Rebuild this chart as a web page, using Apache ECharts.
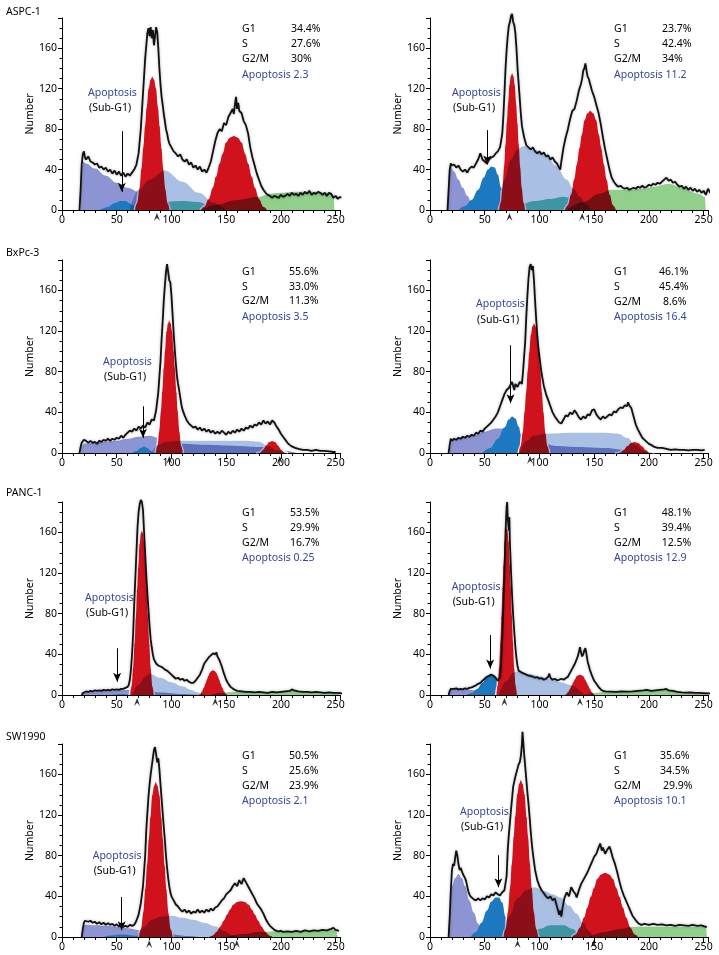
<!DOCTYPE html>
<html><head><meta charset="utf-8">
<script src="https://cdn.jsdelivr.net/npm/echarts@6/dist/echarts.min.js"></script>
<style>html,body{margin:0;padding:0;background:#fff}#c{width:719px;height:955px}</style>
</head><body><div id="c"></div>
<script>
// ---------------- DATA ----------------
const xTicks = [0, 50, 100, 150, 200, 250];
const yTicks = [0, 40, 80, 120, 160];
const phaseNames = ['G1', 'S', 'G2/M'];
const panelLabels = ['ASPC-1', '', 'BxPc-3', '', 'PANC-1', '', 'SW1990', ''];

// ASPC-1 control
const aspc1Hist = [[16,0],[17,20],[18,45],[19,55],[20,58],[21,52],[22,50],[24,53],[26,48],[28,47],[30,45],[32,46],[34,42],[36,43],[38,40],[40,42],[42,38],[44,40],[46,36],[48,39],[50,35],[52,38],[54,34],[56,37],[58,33],[60,36],[62,34],[64,37],[66,40],[68,45],[70,56],[72,80],[74,115],[76,150],[78,175],[79,180],[80,172],[81,181],[82,170],[83,178],[84,163],[85,172],[86,181],[87,176],[88,160],[89,140],[90,124],[91,112],[92,104],[93,95],[94,88],[95,80],[96,76],[97,70],[98,66],[100,62],[102,58],[104,56],[106,53],[108,55],[110,50],[112,48],[114,50],[116,45],[118,47],[120,42],[122,44],[124,40],[126,43],[128,38],[130,40],[132,37],[134,42],[136,48],[138,58],[140,68],[142,76],[144,80],[146,78],[148,86],[150,84],[152,92],[154,96],[156,100],[157,95],[158,104],[159,112],[160,100],[161,106],[162,98],[164,96],[166,88],[168,84],[170,76],[172,62],[174,52],[176,44],[178,36],[180,30],[182,24],[184,20],[186,17],[188,15],[190,14],[192,12],[194,14],[196,13],[198,12],[200,15],[202,13],[204,14],[206,16],[208,14],[210,17],[212,15],[214,16],[216,14],[218,17],[220,15],[222,18],[224,16],[226,19],[228,15],[230,17],[232,16],[234,18],[236,17],[238,15],[240,17],[242,14],[244,17],[246,16],[248,12],[250,14],[252,11],[254,13],[255,12]];
const aspc1Debris = [[17,0],[18,30],[19,48],[22,46],[30,41],[40,34],[50,27],[60,22],[70,18],[80,13],[90,9],[100,6],[115,3],[130,0]];
const aspc1Apop = [[35,0],[42,3],[48,7],[54,9],[58,9],[63,6],[68,3],[72,0]];
const aspc1Teal = [[72,0],[78,5],[90,8],[110,9],[125,8],[133,5],[140,0]];
const aspc1S = [[62,0],[70,20],[80,30],[94,39],[110,28],[125,17],[139,7],[150,0]];
const aspc1G1 = [[66,0],[68,6.6],[70,20],[71.9,40],[73.5,60],[75.2,82],[76.6,100],[78.5,120],[80.3,129],[82.5,133],[84.7,129],[86.5,120],[88.4,100],[89.8,82],[91.5,60],[93.1,40],[95,20],[97,6.6],[99,0]];
const aspc1G2 = [[126,0],[129.7,3.7],[133.4,11],[137.2,22],[140.1,33],[143.4,46],[146,55.5],[149.4,67],[152.8,72],[157,74],[161.2,72],[164.6,67],[168,55.5],[170.6,46],[173.9,33],[176.8,22],[180.6,11],[184.3,3.7],[188,0]];
const aspc1Agg = [[128,0],[140,5],[160,10],[180,13],[190,16],[200,17],[215,18],[230,18],[245,17],[248,15],[249,0]];
const aspc1Markers = [86.7];
const aspc1Arrow = [54.6, 78, 18];
const aspc1Stats = ['34.4%', '27.6%', '30%', '2.3'];

// ASPC-1 treated
const aspc1tHist = [[16,0],[17,20],[18,40],[19,46],[20,44],[22,45],[24,42],[26,44],[28,40],[30,38],[32,40],[34,37],[36,41],[38,43],[40,42],[42,46],[44,50],[46,56],[48,50],[50,48],[52,46],[54,50],[56,52],[58,53],[60,56],[62,58],[64,62],[66,75],[67,92],[68,115],[69,140],[70,158],[71,172],[72,182],[73,186],[74,192],[75,194],[76,186],[77,183],[78,175],[79,160],[80,140],[81,125],[82,110],[83,95],[84,83],[86,72],[88,64],[90,62],[92,60],[94,62],[96,58],[98,56],[100,58],[102,55],[104,57],[106,53],[108,54],[110,50],[112,52],[114,48],[116,46],[118,42],[119,40],[120,48],[122,62],[124,72],[126,80],[128,90],[130,98],[132,100],[134,108],[136,118],[138,125],[139,130],[140,138],[141,140],[142,145],[143,138],[144,132],[145,130],[146,126],[148,118],[150,112],[152,104],[154,96],[156,85],[158,72],[160,60],[162,50],[164,40],[166,32],[168,28],[170,25],[172,23],[174,24],[176,22],[178,21],[180,22],[182,20],[184,21],[186,22],[188,21],[190,23],[192,22],[194,24],[196,22],[198,23],[200,25],[202,24],[204,26],[206,25],[208,27],[210,26],[212,28],[214,30],[216,32],[218,29],[220,30],[222,27],[224,28],[226,25],[228,23],[230,24],[232,21],[234,23],[236,20],[238,22],[240,19],[242,21],[244,18],[246,20],[248,17],[250,19],[252,15],[254,21],[256,17]];
const aspc1tDebris = [[16,0],[17,25],[19,43],[22,38],[26,30],[30,22],[34,14],[38,7],[42,2],[45,0]];
const aspc1tApop = [[26,0],[32,4],[38,10],[44,20],[49,32],[53,40],[56,43],[59,42],[62,35],[65,22],[68,10],[71,3],[74,0]];
const aspc1tTeal = [[80,0],[84,6],[95,9],[110,11],[122,13],[128,12],[133,6],[136,0]];
const aspc1tS = [[62,0],[68,30],[74,50],[80,60],[85,63],[92,61],[100,58],[107,53],[115,44],[125,30],[131,21],[137,13],[142,6],[147,0]];
const aspc1tG1 = [[62.5,0],[64,7],[65.5,20.5],[67,41],[68.2,62],[69.5,85],[70.6,103],[71.9,123],[73.3,133],[75,137],[76.7,133],[78.1,123],[79.4,103],[80.5,85],[81.8,62],[83,41],[84.5,20.5],[86,7],[87.5,0]];
const aspc1tG2 = [[122.5,0],[125.4,5],[128.25,15],[131.15,30],[133.4,44.5],[135.95,61],[138,74],[140.6,89],[143.25,96],[146.5,99],[149.75,96],[152.4,89],[155,74],[157.05,61],[159.6,44.5],[161.85,30],[164.75,15],[167.6,5],[170.5,0]];
const aspc1tAgg = [[125,0],[140,8],[155,16],[165,20],[180,20],[195,21],[205,23],[218,26],[230,22],[245,16],[251,13],[252,0]];
const aspc1tMarkers = [72.6, 139];
const aspc1tArrow = [52.3, 79, 45];
const aspc1tStats = ['23.7%', '42.4%', '34%', '11.2'];

// BxPc-3 control
const bxpcHist = [[16,0],[17,6],[18,10],[20,13],[22,12],[24,10],[26,12],[28,10],[30,11],[32,9],[34,12],[36,11],[38,13],[40,12],[42,14],[44,12],[46,14],[48,13],[50,15],[52,14],[54,17],[56,15],[58,18],[60,20],[62,22],[64,21],[66,24],[68,22],[70,26],[72,24],[74,27],[76,25],[78,30],[80,28],[82,33],[84,32],[86,42],[88,60],[90,90],[91,112],[92,130],[93,150],[94,165],[95,178],[96,186],[97,178],[98,170],[99,168],[100,155],[101,137],[102,118],[103,102],[104,88],[105,76],[106,68],[107,62],[108,55],[109,48],[110,43],[112,37],[114,32],[116,29],[118,27],[120,25],[122,26],[124,23],[126,25],[128,22],[130,24],[132,21],[134,23],[136,20],[138,22],[140,19],[142,21],[144,19],[146,22],[148,20],[150,18],[152,21],[154,19],[156,22],[158,20],[160,23],[162,21],[164,24],[166,22],[168,25],[170,24],[172,27],[174,25],[176,28],[178,27],[180,30],[182,28],[184,32],[186,29],[188,31],[190,28],[192,32],[194,30],[196,26],[198,23],[200,19],[202,16],[204,13],[206,10],[208,8],[210,6.5],[213,5],[216,4],[220,3],[224,3],[228,2],[232,3],[236,2],[240,2],[244,1.5],[248,1],[250,1]];
const bxpcDebris = [[17,0],[18,7],[20,9],[30,10],[40,11],[50,12],[60,14],[70,16],[80,17],[88,15],[95,12],[110,9],[130,8],[160,7],[180,6],[195,4],[205,2],[215,0]];
const bxpcApop = [[64,0],[68,2],[72,5],[75,6.5],[78,5],[81,2],[84,0]];
const bxpcTeal = [];
const bxpcS = [[82,0],[88,8],[95,11],[110,12],[140,12],[170,12],[180,11],[188,7],[196,3],[204,0]];
const bxpcG1 = [[85,0],[86.6,6.6],[88.1,20],[89.7,40],[90.9,59],[92.3,82],[93.4,99],[94.8,119],[96.25,128],[98,132],[99.75,128],[101.2,119],[102.6,99],[103.7,82],[105.1,59],[106.3,40],[107.9,20],[109.4,6.6],[111,0]];
const bxpcG2 = [[177.5,0],[180.7,1],[183.4,3.7],[186,7.7],[189,11.2],[192,12.4],[195,11.2],[198,7.7],[200.6,3.7],[203.3,1],[206.5,0]];
const bxpcAgg = [];
const bxpcMarkers = [98, 199];
const bxpcArrow = [74, 46, 15];
const bxpcStats = ['55.6%', '33.0%', '11.3%', '3.5'];

// BxPc-3 treated
const bxpctHist = [[17,0],[18,8],[19,14],[20,12],[22,14],[24,13],[26,15],[28,14],[30,16],[32,15],[34,17],[36,16],[38,18],[40,17],[42,20],[44,19],[46,22],[48,21],[50,24],[52,26],[54,28],[56,30],[58,33],[60,36],[62,40],[64,46],[66,52],[68,58],[70,62],[72,64],[74,68],[75,70],[76,66],[77,62],[78,68],[80,65],[82,70],[84,68],[85,80],[86,95],[87,110],[88,135],[89,155],[90,172],[91,183],[92,186],[93,180],[94,184],[95,170],[96,150],[97,132],[98,116],[99,104],[100,95],[101,86],[102,78],[103,72],[104,66],[106,58],[108,52],[110,46],[112,40],[114,36],[116,33],[118,30],[120,29],[122,33],[124,37],[126,36],[128,40],[130,38],[132,42],[134,39],[136,35],[138,33],[140,36],[142,34],[144,38],[146,37],[148,42],[150,43],[152,38],[154,35],[156,33],[158,36],[160,34],[162,36],[164,38],[166,37],[168,41],[170,40],[172,43],[174,45],[176,44],[178,47],[180,46],[181,50],[182,47],[184,44],[186,36],[188,28],[190,23],[192,19],[194,15],[196,13],[198,11],[200,9],[202,8],[205,6],[208,5],[212,5],[216,4],[220,3],[224,3.5],[228,3],[232,3],[236,2.5],[240,3],[244,3],[248,2.5],[251,3]];
const bxpctDebris = [[18,0],[19,10],[22,13],[30,15],[40,18],[50,21],[60,24],[70,24],[80,20],[90,14],[100,10],[115,7],[135,6],[160,5],[180,3],[195,1],[200,0]];
const bxpctApop = [[48,0],[55,5],[62,14],[68,25],[72,33],[75,36],[78,34],[81,26],[84,12],[87,3],[90,0]];
const bxpctTeal = [];
const bxpctS = [[82,0],[88,12],[95,17],[105,19],[130,20],[160,20],[172,19],[180,15],[188,8],[196,2],[200,0]];
const bxpctG1 = [[80.5,0],[82.2,6.5],[84,19.4],[85.7,39],[87.1,58],[88.6,80],[89.85,97],[91.45,116],[93,125],[95,129],[97,125],[98.55,116],[100.15,97],[101.4,80],[102.9,58],[104.3,39],[106,19.4],[107.8,6.5],[109.5,0]];
const bxpctG2 = [[169,0],[173.2,0.9],[176.5,3.5],[179.8,7.1],[183.3,10.4],[187,11.5],[190.7,10.4],[194.2,7.1],[197.5,3.5],[200.8,0.9],[205,0]];
const bxpctAgg = [];
const bxpctMarkers = [91.4];
const bxpctArrow = [73.6, 106, 49];
const bxpctStats = ['46.1%', '45.4%', '8.6%', '16.4'];

// PANC-1 control
const pancHist = [[18,0],[19,2],[20,3],[22,3.5],[24,3],[26,4],[28,3.5],[30,4.5],[32,4],[34,4.5],[36,4],[38,5],[40,4.5],[42,5],[44,4.5],[46,5.5],[48,5],[50,5.5],[52,5],[54,6],[56,6],[58,7],[60,8],[61,10],[62,15],[63,25],[64,40],[65,60],[66,90],[67,115],[68,140],[69,165],[70,180],[71,188],[72,192],[73,190],[74,182],[75,160],[76,139],[77,118],[78,100],[79,84],[80,68],[81,55],[82,47],[83,40],[84,35],[86,31],[88,29],[90,28],[92,27],[94,25],[96,24],[98,22],[100,20],[102,18],[104,16],[106,17],[108,15],[110,16],[112,14],[114,15],[116,13],[118,12],[120,12],[122,14],[124,17],[126,20],[128,25],[130,31],[132,34],[134,37],[136,39],[138,41],[140,40],[141,42],[142,38],[144,34],[146,28],[148,21],[150,15],[152,11],[154,8],[156,6.5],[158,5],[160,4],[164,3.5],[168,3],[172,3],[176,2.5],[180,3],[184,2.5],[188,2],[192,3],[196,2.5],[200,3],[204,3.5],[208,4],[210,5.5],[212,4.5],[214,4],[216,3.5],[220,3],[224,3],[228,2.5],[232,3],[236,2.5],[240,2],[244,2.5],[248,2],[252,2],[256,1.5]];
const pancDebris = [[18,0],[19,2.5],[25,3],[40,4],[55,5],[65,5],[75,4],[90,2.5],[110,1],[125,0]];
const pancApop = [[45,0],[50,0.8],[55,1],[60,0.5],[64,0]];
const pancTeal = [];
const pancS = [[64,0],[70,10],[76,18],[80,21],[90,17],[100,12.5],[110,8.5],[118,5],[123,3],[128,1],[132,0]];
const pancG1 = [[61.5,0],[62.9,8.2],[64.25,24.6],[65.65,49],[66.75,74],[67.95,102],[68.9,123],[70.2,148],[71.45,159],[73,164],[74.55,159],[75.8,148],[77.1,123],[78.05,102],[79.25,74],[80.35,49],[81.75,24.6],[83.1,8.2],[84.5,0]];
const pancG2 = [[124,0],[125.7,1.25],[127.35,3.75],[129.05,7.5],[130.4,11.2],[131.85,15.5],[133,18.8],[134.55,22.5],[136.1,24.2],[138,25],[139.9,24.2],[141.45,22.5],[143,18.8],[144.15,15.5],[145.6,11.2],[146.95,7.5],[148.65,3.75],[150.3,1.25],[152,0]];
const pancAgg = [[135,0],[145,2],[155,3],[180,3],[200,3],[208,4],[212,5],[216,3.5],[230,2.5],[250,2],[253,1.5],[254,0]];
const pancMarkers = [68.6, 140];
const pancArrow = [50.4, 46, 13];
const pancStats = ['53.5%', '29.9%', '16.7%', '0.25'];

// PANC-1 treated
const panctHist = [[17,0],[18,4],[19,6],[20,7],[22,6],[24,6.5],[26,5.5],[28,6],[30,5.5],[32,6.5],[34,6],[36,7],[38,7.5],[40,8.5],[42,9.5],[44,11],[46,12],[48,14],[50,16],[52,18],[54,19],[56,20],[58,19],[60,17],[62,14],[63,13],[64,18],[65,30],[66,55],[67,85],[68,120],[69,160],[70,185],[70.5,190],[71,175],[72,162],[72.5,175],[73,150],[74,122],[75,98],[76,78],[77,62],[78,47],[79,36],[80,28],[81,24],[82,23],[84,22],[86,21],[88,20],[90,19],[92,18.5],[94,18],[96,17],[98,17.5],[100,16],[102,16.5],[104,15],[106,16],[108,18],[109,21],[110,17],[112,15],[114,16],[116,14.5],[118,15],[120,16],[122,15],[124,16.5],[126,18],[128,22],[130,26],[132,30],[134,35],[135,38],[136,42],[137,47],[138,42],[139,38],[140,40],[141,44],[142,46],[143,40],[144,33],[146,25],[148,19],[150,14],[152,11],[154,8],[156,5.5],[158,4],[160,3.5],[165,3.3],[170,3],[175,3.5],[180,3.3],[185,3.5],[190,4],[195,4.5],[198,5],[202,4],[206,4.5],[210,5],[214,5.5],[216,6],[218,4.5],[222,4],[226,3],[230,2.5],[234,2.3],[238,2.5],[242,2],[246,2],[250,1.8],[254,1.6],[256,1.5]];
const panctDebris = [[17,0],[18,5],[20,6],[30,6],[38,5],[45,4],[52,2],[58,0]];
const panctApop = [[33,0],[38,2],[43,6],[48,12],[52,17.5],[55,20.5],[58,20],[61,16],[64,9],[66,3],[68,0]];
const panctTeal = [];
const panctS = [[63,0],[70,14],[76,22],[80,23.5],[90,21],[100,18.5],[110,15.5],[120,12.5],[128,10],[133,8],[137,4],[141,0]];
const panctG1 = [[60,0],[61.2,8.4],[62.4,25],[63.6,50],[64.55,75],[65.6,104],[66.45,125],[67.55,150],[68.65,162],[70,167],[71.35,162],[72.45,150],[73.55,125],[74.4,104],[75.45,75],[76.4,50],[77.6,25],[78.8,8.4],[80,0]];
const panctG2 = [[122,0],[123.8,1],[125.6,3.1],[127.4,6.2],[128.8,9.3],[130.4,12.8],[131.7,15.5],[133.3,18.6],[135,20],[137,20.7],[139,20],[140.7,18.6],[142.3,15.5],[143.6,12.8],[145.2,9.3],[146.6,6.2],[148.4,3.1],[150.2,1],[152,0]];
const panctAgg = [[140,0],[150,2],[160,3],[180,3.3],[195,4],[205,4.5],[215,6],[222,4],[235,2.5],[253,1.5],[254,0]];
const panctMarkers = [68, 137];
const panctArrow = [55, 59, 26];
const panctStats = ['48.1%', '39.4%', '12.5%', '12.9'];

// SW1990 control
const swHist = [[18,0],[19,8],[20,14],[21,16],[22,17],[24,15],[26,16],[28,14],[30,15],[32,13],[34,14.5],[36,12.5],[38,14],[40,12],[42,13.5],[44,12],[46,13],[48,11],[50,12.5],[52,10.5],[54,11.5],[56,10],[58,11],[60,10],[62,12],[64,11],[66,12],[68,16],[70,22],[72,33],[74,50],[76,80],[77,105],[78,122],[79,138],[80,150],[81,160],[82,168],[83,176],[84,184],[85,187],[86,180],[87,172],[88,176],[89,165],[90,150],[91,136],[92,122],[93,108],[94,95],[95,80],[96,68],[97,58],[98,50],[99,44],[100,40],[102,36],[104,32],[106,30],[108,27],[110,25],[112,27],[114,24],[116,26],[118,23],[120,25],[122,24],[124,27],[126,24],[128,26],[130,24],[132,27],[134,25],[136,28],[138,26],[140,29],[142,30],[144,33],[146,36],[148,38],[150,42],[152,44],[154,46],[156,50],[158,53],[160,50],[162,56],[164,52],[166,58],[168,54],[170,50],[172,46],[174,42],[176,38],[178,33],[180,30],[182,27],[184,23],[186,18],[188,14],[190,11],[192,9],[194,7],[196,6],[198,5.5],[200,6],[202,5],[206,5.5],[210,5],[214,6],[218,5],[222,6.5],[226,5.5],[230,6.5],[234,6],[238,7],[242,6.5],[246,8],[248,9],[250,7],[253,6]];
const swDebris = [[18,0],[19,8],[21,12],[30,11.5],[40,11],[50,10],[60,8.5],[70,7],[80,5.5],[90,4],[100,2.5],[115,1],[125,0]];
const swApop = [[38,0],[45,1.5],[52,2.5],[58,2.5],[65,1.5],[72,0.5],[76,0]];
const swTeal = [];
const swS = [[68,0],[75,10],[82,17],[90,20],[100,21],[110,19],[120,17],[130,14],[140,10.5],[148,6],[155,2],[160,0]];
const swG1 = [[69.7,0],[71.6,7.7],[73.55,23],[75.45,46],[77,69],[78.65,95],[80,116],[81.8,139],[83.55,149],[85.7,154],[87.85,149],[89.6,139],[91.4,116],[92.75,95],[94.4,69],[95.95,46],[97.85,23],[99.8,7.7],[101.7,0]];
const swG2 = [[133.5,0],[137.1,1.8],[140.7,5.4],[144.3,10.8],[147.15,16.2],[150.3,22.3],[152.85,27],[156.15,32.4],[159.45,35],[163.5,36],[167.55,35],[170.85,32.4],[174.15,27],[176.7,22.3],[179.85,16.2],[182.7,10.8],[186.3,5.4],[189.9,1.8],[193.5,0]];
const swAgg = [[150,0],[165,3],[180,5],[195,5.5],[210,5],[225,5.5],[240,6.5],[250,7],[252,0]];
const swMarkers = [79.7, 159.7];
const swArrow = [54.5, 39.4, 6.6];
const swStats = ['50.5%', '25.6%', '23.9%', '2.1'];

// SW1990 treated
const swtHist = [[17,0],[18,20],[19,45],[20,65],[21,72],[22,70],[23,78],[24,85],[25,80],[26,72],[27,66],[28,68],[30,62],[32,58],[33,55],[34,50],[35,45],[36,42],[37,40],[38,39],[40,37],[42,36],[44,38],[46,36],[48,38],[50,37],[52,40],[54,39],[56,42],[58,41],[60,44],[62,42],[64,41],[66,44],[68,46],[70,60],[71,85],[72,100],[74,125],[76,148],[78,158],[80,166],[81,170],[82,172],[83,178],[84,190],[84.5,202],[85,195],[86,180],[87,168],[88,155],[89,142],[90,131],[91,118],[92,104],[93,92],[94,82],[95,74],[96,66],[98,56],[100,50],[102,46],[104,43],[106,40],[108,38],[110,40],[112,36],[114,38],[116,30],[117,26],[118,22],[119,26],[120,20],[121,28],[122,34],[123,39],[125,44],[127,40],[129,49],[131,45],[133,42],[134,39],[136,46],[138,52],[140,56],[142,60],[144,64],[146,69],[148,74],[150,79],[152,82],[154,88],[155.5,92],[157,85],[158,88],[160,82],[162,86],[164,89],[165,86],[167,78],[169,72],[171,64],[173,55],[175,47],[177,41],[179,36],[181,31],[183,26],[185,21],[187,18],[189,15],[191,13],[193,12],[196,13],[200,12],[204,13],[208,12],[212,12.5],[216,11.5],[220,12],[224,11],[228,12],[232,11.5],[236,11],[240,12],[244,11],[248,11.5],[252,10],[253,10]];
const swtDebris = [[17,0],[18,25],[20,50],[23,58],[26,62],[29,58],[32,50],[36,36],[40,24],[44,13],[48,5],[52,0]];
const swtApop = [[37,0],[42,5],[47,14],[52,26],[56,35],[60,39],[63,39],[66,34],[69,20],[72,8],[75,2],[77,0]];
const swtTeal = [[95,0],[100,8],[110,11.5],[122,11.5],[130,8],[136,3],[139,0]];
const swtS = [[66,0],[72,20],[80,38],[88,46],[95,49],[105,45],[112,42],[119,39],[127,31],[134,23],[140,14],[145,6],[149,0]];
const swtG1 = [[66.5,0],[68.5,7.8],[70.45,23.4],[72.45,47],[74,70],[75.75,97],[77.15,117],[79,140],[80.8,151],[83,156],[85.2,151],[87,140],[88.85,117],[90.25,97],[92,70],[93.55,47],[95.55,23.4],[97.5,7.8],[99.5,0]];
const swtG2 = [[129,0],[132.7,3.2],[136.45,9.6],[140.15,19.2],[143.1,28.8],[146.35,39.7],[149,48],[152.4,57.6],[155.8,62],[160,64],[164.2,62],[167.6,57.6],[171,48],[173.65,39.7],[176.9,28.8],[179.85,19.2],[183.55,9.6],[187.3,3.2],[191,0]];
const swtAgg = [[145,0],[160,5],[175,8],[185,10],[200,10],[220,10],[240,10],[252,10],[253,0]];
const swtMarkers = [80, 149.4];
const swtArrow = [62.5, 80.5, 49];
const swtStats = ['35.6%', '34.5%', '29.9%', '10.1'];

// ---------------- BUILD ----------------
const panels = [
  {hist: aspc1Hist, debris: aspc1Debris, apop: aspc1Apop, teal: aspc1Teal, s: aspc1S, g1: aspc1G1, g2: aspc1G2, agg: aspc1Agg, markers: aspc1Markers, arrow: aspc1Arrow, stats: aspc1Stats},
  {hist: aspc1tHist, debris: aspc1tDebris, apop: aspc1tApop, teal: aspc1tTeal, s: aspc1tS, g1: aspc1tG1, g2: aspc1tG2, agg: aspc1tAgg, markers: aspc1tMarkers, arrow: aspc1tArrow, stats: aspc1tStats},
  {hist: bxpcHist, debris: bxpcDebris, apop: bxpcApop, teal: bxpcTeal, s: bxpcS, g1: bxpcG1, g2: bxpcG2, agg: bxpcAgg, markers: bxpcMarkers, arrow: bxpcArrow, stats: bxpcStats},
  {hist: bxpctHist, debris: bxpctDebris, apop: bxpctApop, teal: bxpctTeal, s: bxpctS, g1: bxpctG1, g2: bxpctG2, agg: bxpctAgg, markers: bxpctMarkers, arrow: bxpctArrow, stats: bxpctStats},
  {hist: pancHist, debris: pancDebris, apop: pancApop, teal: pancTeal, s: pancS, g1: pancG1, g2: pancG2, agg: pancAgg, markers: pancMarkers, arrow: pancArrow, stats: pancStats},
  {hist: panctHist, debris: panctDebris, apop: panctApop, teal: panctTeal, s: panctS, g1: panctG1, g2: panctG2, agg: panctAgg, markers: panctMarkers, arrow: panctArrow, stats: panctStats},
  {hist: swHist, debris: swDebris, apop: swApop, teal: swTeal, s: swS, g1: swG1, g2: swG2, agg: swAgg, markers: swMarkers, arrow: swArrow, stats: swStats},
  {hist: swtHist, debris: swtDebris, apop: swtApop, teal: swtTeal, s: swtS, g1: swtG1, g2: swtG2, agg: swtAgg, markers: swtMarkers, arrow: swtArrow, stats: swtStats}
];

// layout (pixels)
const rowsLayout = [{top: 18, height: 192}, {top: 260, height: 193}, {top: 502, height: 193}, {top: 744, height: 193}];
const colLeft = [62, 430];
const textLayout = [
  {label: [6, 12], statX: 242, valX: 291, rowY: [29, 44, 59, 75], sub: [88, 93], subGap: 15},
  {statX: 614, valX: 662, rowY: [29, 44, 59, 75], sub: [452, 93], subGap: 15},
  {label: [6, 253], statX: 242, valX: 289, rowY: [272, 287, 301.5, 316.7], sub: [103, 361.7], subGap: 15},
  {statX: 614, valX: 659, rowY: [272, 287, 301.7, 316.7], sub: [476, 304], subGap: 16.5, valOff: [0, 0, 4]},
  {label: [6, 493.3], statX: 242, valX: 290, rowY: [513.3, 528.3, 543.3, 558.3], sub: [85, 598.3], subGap: 15},
  {statX: 614, valX: 661.7, rowY: [513.3, 528.3, 543.3, 558.3], sub: [451.7, 586.7], subGap: 15},
  {label: [6, 736.7], statX: 242, valX: 289, rowY: [755.7, 770.7, 786, 800.7], sub: [92.7, 855.7], subGap: 15},
  {statX: 614, valX: 660, rowY: [755.7, 770.7, 786, 800.7], sub: [460, 811.7], subGap: 15.6, valOff: [0, 0, 3]}
];

const FONT = 'Noto Sans';
const FS = 10.5;
const BLUE_TXT = '#34469c';
const C = {debris: '#8d94d4', apop: '#1c78bf', teal: '#5cc8b8', s: '#aabfe4', agg: '#90d08b', red: '#d0121c'};

const grids = [], xAxes = [], yAxes = [], series = [], graphics = [];

function area(gi, data, color, z, blend) {
  const s = {type: 'line', xAxisIndex: gi, yAxisIndex: gi, data: data, smooth: 0.4, smoothMonotone: 'x',
    symbol: 'none', silent: true, lineStyle: {width: 0, opacity: 0}, areaStyle: {color: color, opacity: 1}, z: z};
  if (blend) s.blendMode = 'multiply';
  return s;
}
function txt(x, y, text, color) {
  return {type: 'text', x: x, y: y, silent: true,
    style: {text: text, fill: color || '#000', fontFamily: FONT, fontSize: FS, verticalAlign: 'middle', align: 'left'}};
}

panels.forEach((p, gi) => {
  const row = Math.floor(gi / 2), col = gi % 2;
  grids.push({left: colLeft[col], width: 278, top: rowsLayout[row].top, height: rowsLayout[row].height});
  xAxes.push({gridIndex: gi, type: 'value', min: 0, max: 254, interval: 50,
    axisLine: {lineStyle: {color: '#000', width: 1}},
    axisTick: {length: 5, lineStyle: {color: '#000'}},
    minorTick: {show: true, splitNumber: 5, length: 3, lineStyle: {color: '#000'}},
    splitLine: {show: false},
    axisLabel: {color: '#000', fontFamily: FONT, fontSize: FS, margin: 5, showMaxLabel: false,
      formatter: v => xTicks.indexOf(v) >= 0 ? String(v) : ''}});
  yAxes.push({gridIndex: gi, type: 'value', min: 0, max: 190, interval: 40,
    name: 'Number', nameLocation: 'middle', nameGap: 21,
    nameTextStyle: {color: '#000', fontFamily: FONT, fontSize: FS},
    axisLine: {show: true, lineStyle: {color: '#000', width: 1}},
    axisTick: {show: true, length: 4, lineStyle: {color: '#000'}},
    minorTick: {show: true, splitNumber: 4, length: 2.5, lineStyle: {color: '#000'}},
    splitLine: {show: false},
    axisLabel: {color: '#000', fontFamily: FONT, fontSize: FS, margin: 5, showMaxLabel: false,
      formatter: v => yTicks.indexOf(v) >= 0 ? String(v) : ''}});

  // opaque layers: debris, apoptosis, teal, then G1/G2 on top
  series.push(area(gi, p.debris, C.debris, 1, false));
  if (p.apop.length) series.push(area(gi, p.apop, C.apop, 2, false));
  if (p.teal.length) series.push(area(gi, p.teal, C.teal, 2, false));
  series.push(area(gi, p.g1, C.red, 3, false));
  series.push(area(gi, p.g2, C.red, 3, false));
  [p.g1, p.g2].forEach(d => series.push({type: 'line', xAxisIndex: gi, yAxisIndex: gi, data: d, smooth: 0.4,
    smoothMonotone: 'x', symbol: 'none', silent: true, z: 4, lineStyle: {color: '#ffffff', width: 1.4, opacity: 0.95}}));
  // multiplied layers: S phase and aggregates
  series.push(area(gi, p.s, C.s, 5, true));
  if (p.agg.length) series.push(area(gi, p.agg, C.agg, 5, true));
  series.push({type: 'line', xAxisIndex: gi, yAxisIndex: gi, data: p.hist, symbol: 'none', silent: true, clip: false, z: 6,
    lineStyle: {color: '#111111', width: 1.8, shadowColor: 'rgba(0,0,0,0.3)', shadowBlur: 3}});
  series.push({type: 'scatter', xAxisIndex: gi, yAxisIndex: gi, data: p.markers.map(x => [x, 0]), clip: false, silent: true, z: 7,
    symbol: 'path://M0,10 L5,0 L10,10 L5,6 Z', symbolSize: [6, 8], symbolOffset: [0, 7], itemStyle: {color: '#000'},
    markLine: {silent: true, symbol: ['none', 'arrow'], symbolSize: 8, label: {show: false},
      lineStyle: {color: '#000', width: 1, type: 'solid'},
      data: [[{coord: [p.arrow[0], p.arrow[1]], symbol: 'none'}, {coord: [p.arrow[0], p.arrow[2]], symbol: 'arrow', symbolSize: [6, 9]}]]}});

  const L = textLayout[gi];
  if (panelLabels[gi]) graphics.push(txt(L.label[0], L.label[1], panelLabels[gi]));
  phaseNames.forEach((n, k) => {
    graphics.push(txt(L.statX, L.rowY[k], n));
    graphics.push(txt(L.valX + ((L.valOff && L.valOff[k]) || 0), L.rowY[k], p.stats[k]));
  });
  graphics.push(txt(L.statX, L.rowY[3], 'Apoptosis ' + p.stats[3], BLUE_TXT));
  graphics.push(txt(L.sub[0], L.sub[1], 'Apoptosis', BLUE_TXT));
  graphics.push(txt(L.sub[0] + 1, L.sub[1] + L.subGap, '(Sub-G1)'));
});

const chart = echarts.init(document.getElementById('c'), null, {renderer: 'canvas'});
chart.setOption({
  backgroundColor: '#ffffff', animation: false,
  grid: grids, xAxis: xAxes, yAxis: yAxes, series: series, graphic: graphics
});
</script></body></html>
